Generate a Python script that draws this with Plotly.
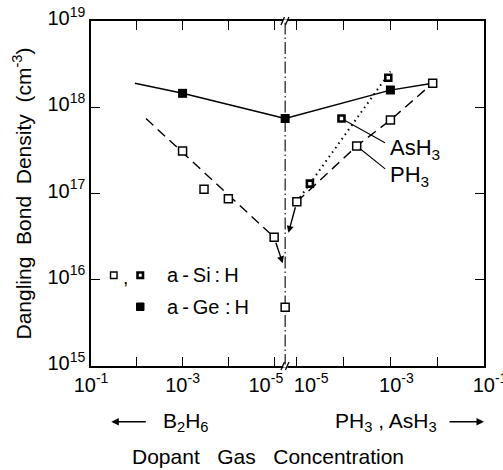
import numpy as np
import plotly.graph_objects as go

# ---------------- data ----------------
# B2H6 side (left panel)
si_b2h6_x = [1e-3, 3.4e-4, 1e-4, 1e-5]
si_b2h6_y = [3.1e17, 1.12e17, 8.7e16, 3.1e16]
si_b2h6_fit_x = [6.3e-3, 1e-5]
si_b2h6_fit_y = [7.4e17, 3.1e16]
si_b2h6_arrow_tip = (6.5e-6, 1.55e16)

ge_b2h6_x = [1e-3]
ge_b2h6_y = [1.45e18]
ge_b2h6_start = (1.1e-2, 1.9e18)

# undoped samples (plotted on the axis break)
undoped_si = 4.8e15
undoped_ge = 7.4e17

# PH3 / AsH3 side (right panel)
si_ph3_x = [1e-5, 1.9e-4, 1e-3, 8e-3]
si_ph3_y = [8e16, 3.55e17, 7.1e17, 1.9e18]
si_ph3_arrow_tip = (6.6e-6, 3.5e16)

si_ash3_x = [1.9e-5, 9e-5, 9e-4]
si_ash3_y = [1.3e17, 7.4e17, 2.2e18]
si_ash3_fit_x = [1e-5, 1e-3]
si_ash3_fit_y = [8e16, 2.6e18]

ge_ph3_x = [1e-3]
ge_ph3_y = [1.58e18]

NB = "\u00a0"
TS = "\u2009"
x_tickvals = [1e-1, 1e-2, 1e-3, 1e-4, 1e-5]
xl_ticktext = ["10<sup>-1</sup>", "", "10<sup>-3</sup>", "", "10<sup>-5</sup>" + NB * 3]
xr_ticktext = ["10<sup>-1</sup>", "", "10<sup>-3</sup>", "", NB * 3 + "10<sup>-5</sup>"]
y_tickvals = [1e15, 1e16, 1e17, 1e18, 1e19]
y_ticktext = ["10<sup>15</sup>", "10<sup>16</sup>", "10<sup>17</sup>", "10<sup>18</sup>", "10<sup>19</sup>"]

# ---------------- layout geometry ----------------
W, H = 503, 470
PX0, PX1, PY0, PY1 = 90.7, 484.0, 21.0, 365.7
XBRK = 285.0
LEFT_RANGE = [-1, -5.24]
RIGHT_RANGE = [-5.25, -1]
BRK_L = 10 ** LEFT_RANGE[1]
BRK_R = 10 ** RIGHT_RANGE[0]


def px(x):
    return (x - PX0) / (PX1 - PX0)


def py(y):
    return (PY1 - y) / (PY1 - PY0)


FONT = "Liberation Sans"
BLK = "black"
split = px(XBRK)

fig = go.Figure()

# --- left panel (B2H6) ---
fig.add_trace(go.Scatter(x=si_b2h6_fit_x, y=si_b2h6_fit_y, mode="lines",
                         line=dict(color=BLK, width=1.4, dash="10px,6px"),
                         xaxis="x", yaxis="y", showlegend=False))
fig.add_trace(go.Scatter(x=si_b2h6_x, y=si_b2h6_y, mode="markers",
                         marker=dict(symbol="square", size=8, color="white",
                                     line=dict(color=BLK, width=1.5)),
                         xaxis="x", yaxis="y", showlegend=False))
fig.add_trace(go.Scatter(x=[ge_b2h6_start[0]] + ge_b2h6_x + [BRK_L],
                         y=[ge_b2h6_start[1]] + ge_b2h6_y + [undoped_ge],
                         mode="lines", line=dict(color=BLK, width=1.5),
                         xaxis="x", yaxis="y", showlegend=False))
fig.add_trace(go.Scatter(x=ge_b2h6_x + [BRK_L], y=ge_b2h6_y + [undoped_ge],
                         mode="markers", cliponaxis=False,
                         marker=dict(symbol="square", size=9, color=BLK),
                         xaxis="x", yaxis="y", showlegend=False))
fig.add_trace(go.Scatter(x=[BRK_L], y=[undoped_si], mode="markers", cliponaxis=False,
                         marker=dict(symbol="square", size=8, color="white",
                                     line=dict(color=BLK, width=1.5)),
                         xaxis="x", yaxis="y", showlegend=False))

# --- right panel (PH3, AsH3) ---
fig.add_trace(go.Scatter(x=si_ash3_fit_x, y=si_ash3_fit_y, mode="lines",
                         line=dict(color=BLK, width=2, dash="1.5px,4px"),
                         xaxis="x2", yaxis="y2", showlegend=False))
fig.add_trace(go.Scatter(x=[BRK_R] + ge_ph3_x + [si_ph3_x[-1]],
                         y=[undoped_ge] + ge_ph3_y + [si_ph3_y[-1]],
                         mode="lines", line=dict(color=BLK, width=1.5),
                         xaxis="x2", yaxis="y2", showlegend=False))
fig.add_trace(go.Scatter(x=si_ph3_x, y=si_ph3_y, mode="lines+markers",
                         line=dict(color=BLK, width=1.4, dash="10px,6px"),
                         marker=dict(symbol="square", size=8, color="white",
                                     line=dict(color=BLK, width=1.5)),
                         xaxis="x2", yaxis="y2", showlegend=False))
fig.add_trace(go.Scatter(x=si_ash3_x, y=si_ash3_y, mode="markers",
                         marker=dict(symbol="square", size=6, color="white",
                                     line=dict(color=BLK, width=2.6)),
                         xaxis="x2", yaxis="y2", showlegend=False))
fig.add_trace(go.Scatter(x=ge_ph3_x, y=ge_ph3_y, mode="markers",
                         marker=dict(symbol="square", size=9, color=BLK),
                         xaxis="x2", yaxis="y2", showlegend=False))

annotations = []
# arrows toward the undoped position
annotations.append(dict(x=np.log10(si_b2h6_arrow_tip[0]), y=np.log10(si_b2h6_arrow_tip[1]),
                        ax=np.log10(si_b2h6_x[-1]), ay=np.log10(si_b2h6_y[-1]),
                        xref="x", yref="y", axref="x", ayref="y", text="",
                        showarrow=True, arrowhead=2, arrowsize=1, arrowwidth=1.4,
                        arrowcolor=BLK, standoff=0, startstandoff=4))
annotations.append(dict(x=np.log10(si_ph3_arrow_tip[0]), y=np.log10(si_ph3_arrow_tip[1]),
                        ax=np.log10(si_ph3_x[0]), ay=np.log10(si_ph3_y[0]),
                        xref="x2", yref="y2", axref="x2", ayref="y2", text="",
                        showarrow=True, arrowhead=2, arrowsize=1, arrowwidth=1.4,
                        arrowcolor=BLK, standoff=0, startstandoff=4))
# leader lines to labels
annotations.append(dict(x=np.log10(si_ash3_x[1]), y=np.log10(si_ash3_y[1]),
                        xref="x2", yref="y2", ax=45, ay=25, text="",
                        showarrow=True, arrowhead=0, arrowwidth=1.1, arrowcolor=BLK,
                        standoff=4))
annotations.append(dict(x=np.log10(si_ph3_x[1]), y=np.log10(si_ph3_y[1]),
                        xref="x2", yref="y2", ax=30, ay=24, text="",
                        showarrow=True, arrowhead=0, arrowwidth=1.1, arrowcolor=BLK,
                        standoff=4))
annotations.append(dict(x=px(388), y=py(149), xref="paper", yref="paper",
                        text="AsH<sub>3</sub>", showarrow=False, xanchor="left", yanchor="middle",
                        font=dict(family=FONT, size=22, color=BLK)))
annotations.append(dict(x=px(388), y=py(176), xref="paper", yref="paper",
                        text="PH<sub>3</sub>", showarrow=False, xanchor="left", yanchor="middle",
                        font=dict(family=FONT, size=22, color=BLK)))

# legend texts
annotations.append(dict(x=px(125.5), y=py(277), xref="paper", yref="paper", text=",",
                        showarrow=False, xanchor="center", yanchor="middle",
                        font=dict(family=FONT, size=19, color=BLK)))
annotations.append(dict(x=px(165), y=py(275), xref="paper", yref="paper",
                        text="a" + TS + "-" + TS + "Si" + TS + ":" + TS + "H",
                        showarrow=False, xanchor="left", yanchor="middle",
                        font=dict(family=FONT, size=20, color=BLK)))
annotations.append(dict(x=px(165), y=py(307), xref="paper", yref="paper",
                        text="a" + TS + "-" + TS + "Ge" + NB + ":" + TS + "H",
                        showarrow=False, xanchor="left", yanchor="middle",
                        font=dict(family=FONT, size=20, color=BLK)))

# second x-axis line: gas labels with arrows
annotations.append(dict(x=px(111), y=py(421.5), xref="paper", yref="paper", text="",
                        ax=36, ay=0, showarrow=True, arrowhead=2, arrowsize=1,
                        arrowwidth=1.5, arrowcolor=BLK))
annotations.append(dict(x=px(484), y=py(421.5), xref="paper", yref="paper", text="",
                        ax=-36, ay=0, showarrow=True, arrowhead=2, arrowsize=1,
                        arrowwidth=1.5, arrowcolor=BLK))
annotations.append(dict(x=px(161), y=py(421.5), xref="paper", yref="paper",
                        text="B<sub>2</sub>H<sub>6</sub>", showarrow=False,
                        xanchor="left", yanchor="middle",
                        font=dict(family=FONT, size=21, color=BLK)))
annotations.append(dict(x=px(439), y=py(421.5), xref="paper", yref="paper",
                        text="PH<sub>3</sub> , AsH<sub>3</sub>", showarrow=False,
                        xanchor="right", yanchor="middle",
                        font=dict(family=FONT, size=21, color=BLK)))
annotations.append(dict(x=px(268), y=py(456), xref="paper", yref="paper",
                        text="Dopant" + NB * 3 + "Gas" + NB * 3 + "Concentration",
                        showarrow=False, xanchor="center", yanchor="middle",
                        font=dict(family=FONT, size=21, color=BLK)))

shapes = []
# dash-dot line at the axis break
shapes.append(dict(type="line", xref="paper", yref="paper", x0=split, x1=split, y0=0, y1=1,
                   line=dict(color=BLK, width=1.1, dash="12px,3px,1.5px,3px"), layer="below"))
# break marks
for yy in (PY0, PY1):
    shapes.append(dict(type="rect", xref="paper", yref="paper",
                       x0=px(283), x1=px(287.5), y0=py(yy + 1.6), y1=py(yy - 1.6),
                       fillcolor="white", line=dict(width=0), layer="above"))
    for dx in (0, 4.5):
        shapes.append(dict(type="line", xref="paper", yref="paper",
                           x0=px(280.8 + dx), x1=px(284.3 + dx), y0=py(yy + 4), y1=py(yy - 4),
                           line=dict(color=BLK, width=1.3), layer="above"))
# legend marker glyphs
def sq(cx, cy, s, fill, lw):
    return dict(type="rect", xref="paper", yref="paper",
                x0=px(cx - s / 2), x1=px(cx + s / 2), y0=py(cy + s / 2), y1=py(cy - s / 2),
                fillcolor=fill, line=dict(color=BLK, width=lw), layer="above")

shapes.append(sq(113.5, 275, 6.5, "white", 1.4))
shapes.append(sq(140, 275, 5.5, "white", 2.6))
shapes.append(sq(140, 306.5, 7.5, BLK, 1))

axis_common = dict(type="log", showgrid=False, zeroline=False, showline=True,
                   linecolor=BLK, linewidth=1.5, ticks="inside", ticklen=9,
                   tickwidth=1.4, tickcolor=BLK, mirror="ticks", automargin=False,
                   tickfont=dict(family=FONT, size=20, color=BLK))

fig.update_layout(
    width=W, height=H,
    margin=dict(l=PX0, r=W - PX1, t=PY0, b=H - PY1, pad=0, autoexpand=False),
    paper_bgcolor="white", plot_bgcolor="white",
    xaxis=dict(axis_common, domain=[0, split], range=LEFT_RANGE, anchor="y",
               tickmode="array", tickvals=x_tickvals, ticktext=xl_ticktext,
               ticklabeloverflow="allow"),
    xaxis2=dict(axis_common, domain=[split, 1], range=RIGHT_RANGE, anchor="y2",
                tickmode="array", tickvals=x_tickvals, ticktext=xr_ticktext,
                ticklabelshift=6, ticklabeloverflow="allow"),
    yaxis=dict(axis_common, domain=[0, 1], range=[15, 19], anchor="x", side="left",
               mirror=False, tickmode="array", tickvals=y_tickvals, ticktext=y_ticktext,
               ticklabelshift=-3, ticklabeloverflow="allow",
               title=dict(text="Dangling" + NB * 2 + "Bond" + NB * 2 + "Density" + NB * 2 + "(cm<sup>-3</sup>)",
                          font=dict(family=FONT, size=21, color=BLK), standoff=10)),
    yaxis2=dict(axis_common, domain=[0, 1], range=[15, 19], anchor="x2", side="right",
                mirror=False, showticklabels=False, tickmode="array", tickvals=y_tickvals),
    annotations=annotations,
    shapes=shapes,
    showlegend=False,
)

fig.write_html("out.html")
